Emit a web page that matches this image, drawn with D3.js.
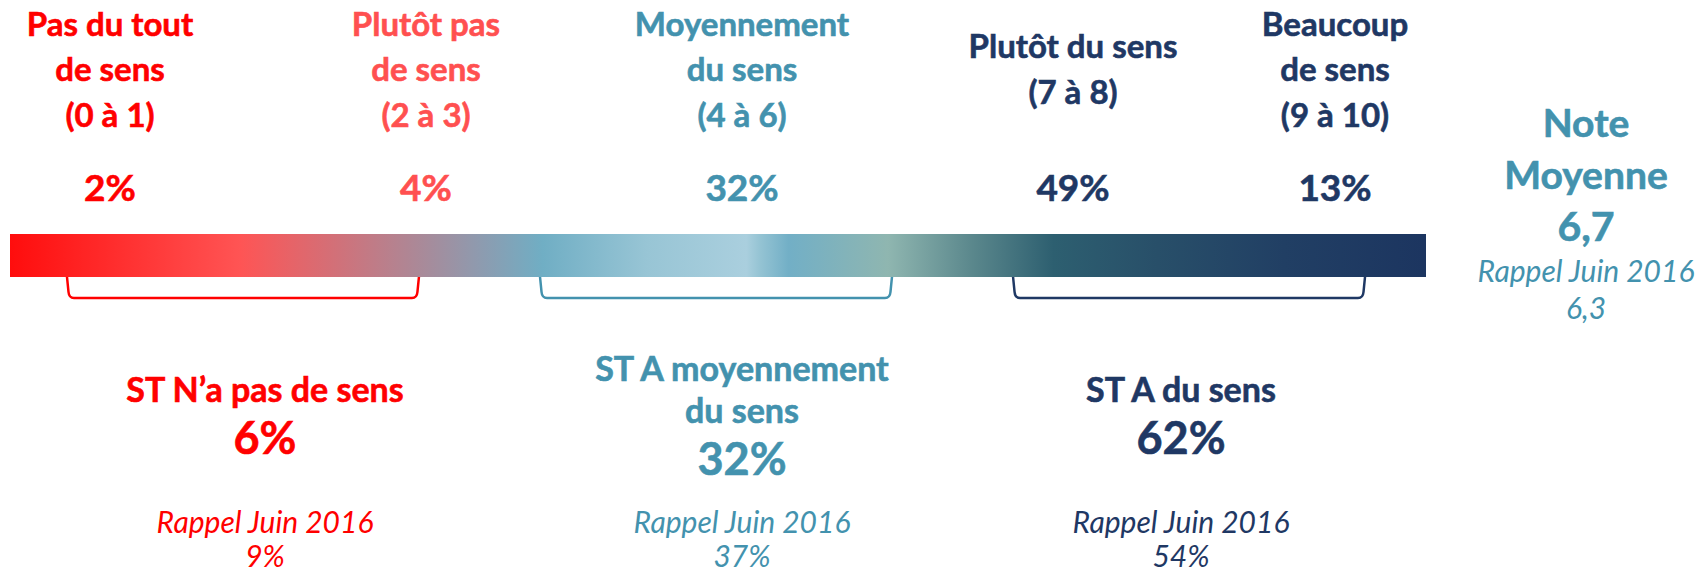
<!DOCTYPE html>
<html>
<head>
<meta charset="utf-8">
<script src="https://cdn.jsdelivr.net/npm/d3@7"></script>
<style>
  body { margin: 0; background: #fff; }
  svg { display: block; font-family: Lato, "Open Sans", sans-serif; }
</style>
</head>
<body>
<svg id="chart"></svg>
<script>
// answer categories, left to right on the 0-10 scale
const categoryLines = [
    ["Pas du tout", "de sens", "(0 à 1)"],
    ["Plutôt pas", "de sens", "(2 à 3)"],
    ["Moyennement", "du sens", "(4 à 6)"],
    ["Plutôt du sens", "(7 à 8)"],
    ["Beaucoup", "de sens", "(9 à 10)"]
];
const categoryShares = [2, 4, 32, 49, 13];

// sub-totals under the bar
const groupLines = [["ST N’a pas de sens"], ["ST A moyennement", "du sens"], ["ST A du sens"]];
const groupShares = [6, 32, 62];
const groupRecall = [9, 37, 54];
const recallLabel = "Rappel Juin 2016";

// average score
const meanTitle = ["Note", "Moyenne"];
const meanScore = 6.7;
const meanRecall = 6.3;

// colours
const RED = "#ff0000", LIGHT_RED = "#ff5050", TEAL = "#4392ae", NAVY = "#1f3864";
const categoryColors = [RED, LIGHT_RED, TEAL, NAVY, NAVY];
const groupColors = [RED, TEAL, NAVY];
const gradientStops = [
    [0, "#ff0d0d"], [0.162, "#ff5454"], [0.33, "#8f9aae"], [0.376, "#70aec4"],
    [0.45, "#98c5d5"], [0.52, "#aacfde"], [0.53, "#94c3d3"], [0.55, "#72afc6"], [0.62, "#8fb6b0"],
    [0.68, "#5a878c"], [0.737, "#2d5f70"], [0.81, "#284f69"], [0.9, "#213f64"], [1, "#1c3560"]
];

const width = 1699, height = 574;
const svg = d3.select("#chart").attr("width", width).attr("height", height);

// column centres of the headers (the last two columns sit a little tighter)
const x = d3.scaleLinear().domain([0, 2, 3, 4]).range([110, 742, 1073, 1335]);
const barX = d3.scaleLinear().domain([0, 1]).range([10, 1426]);
const gx = d3.scaleBand().domain(d3.range(groupLines.length)).range([67, 1365]).paddingInner(0.256);
// centres of the sub-total text blocks
const groupX = d3.scaleLinear().domain([0, 1, 2]).range([265, 742, 1181]);

const fr = d3.formatLocale({ decimal: ",", thousands: " ", grouping: [3], currency: ["", " €"] });
const fmtNote = fr.format(".1f");
const pct = v => `${v}%`;

// bold text gets a hairline stroke to come closer to the heavier original face
const heavy = sel => sel
    .attr("font-weight", 700)
    .attr("stroke", function () { return d3.select(this.parentNode).attr("fill") || d3.select(this).attr("fill"); })
    .attr("stroke-width", 0.6);

// gradient bar
const defs = svg.append("defs");
defs.append("linearGradient")
    .attr("id", "scoreGradient")
    .attr("x1", 0).attr("x2", 1).attr("y1", 0).attr("y2", 0)
    .selectAll("stop")
    .data(gradientStops)
    .join("stop")
    .attr("offset", d => d[0])
    .attr("stop-color", d => d[1]);

const barTop = 234, barBottom = 277;
svg.append("rect")
    .attr("x", barX(0))
    .attr("y", barTop)
    .attr("width", barX(1) - barX(0))
    .attr("height", barBottom - barTop)
    .attr("fill", "url(#scoreGradient)");

// category headers, centred vertically on the middle line
const headerMid = 81, headerStep = 45.5;
svg.append("g").selectAll("g")
    .data(categoryLines)
    .join("g")
    .attr("fill", (d, i) => categoryColors[i])
    .attr("text-anchor", "middle")
    .each(function (lines, i) {
        d3.select(this).selectAll("text")
            .data(lines)
            .join("text")
            .attr("x", x(i))
            .attr("y", (d, j) => headerMid + (j - (lines.length - 1) / 2) * headerStep)
            .attr("font-size", 33)
            .text(d => d)
            .call(heavy);
    });

svg.append("g").selectAll("text")
    .data(categoryShares)
    .join("text")
    .attr("x", (d, i) => x(i))
    .attr("y", 201)
    .attr("text-anchor", "middle")
    .attr("font-size", 37)
    .attr("fill", (d, i) => categoryColors[i])
    .text(pct)
    .call(heavy);

// brackets under the bar
function bracket(x0, x1) {
    const y0 = barBottom, y1 = 298;
    const p = d3.path();
    p.moveTo(x0, y0);
    p.lineTo(x0 + 1.5, y1 - 6);
    p.quadraticCurveTo(x0 + 2, y1, x0 + 7, y1);
    p.lineTo(x1 - 7, y1);
    p.quadraticCurveTo(x1 - 2, y1, x1 - 1.5, y1 - 6);
    p.lineTo(x1, y0);
    return p.toString();
}

svg.append("g").selectAll("path")
    .data(groupLines)
    .join("path")
    .attr("d", (d, i) => bracket(gx(i), gx(i) + gx.bandwidth()))
    .attr("fill", "none")
    .attr("stroke", (d, i) => groupColors[i])
    .attr("stroke-width", 2.5);

// sub-total blocks
const titleBase = 402, titleStep = 42;

svg.append("g").selectAll("g")
    .data(groupLines)
    .join("g")
    .attr("text-anchor", "middle")
    .attr("fill", (d, i) => groupColors[i])
    .each(function (lines, i) {
        const g = d3.select(this);
        const cx = groupX(i);
        const first = titleBase - (lines.length - 1) * titleStep / 2;
        g.selectAll("text.title")
            .data(lines)
            .join("text")
            .attr("class", "title")
            .attr("x", cx)
            .attr("y", (d, j) => first + j * titleStep)
            .attr("font-size", 34)
            .text(d => d)
            .call(heavy);
        g.append("text")
            .attr("x", cx)
            .attr("y", first + (lines.length - 1) * titleStep + 52)
            .attr("font-size", 45)
            .text(pct(groupShares[i]))
            .call(heavy);
        g.append("text")
            .attr("x", cx)
            .attr("y", 533)
            .attr("font-style", "italic")
            .attr("font-size", 30)
            .text(recallLabel);
        g.append("text")
            .attr("x", cx)
            .attr("y", 567)
            .attr("font-style", "italic")
            .attr("font-size", 30)
            .text(pct(groupRecall[i]));
    });

// average score block
const note = svg.append("g")
    .attr("text-anchor", "middle")
    .attr("fill", TEAL);
const noteX = 1586;

note.selectAll("text.title")
    .data(meanTitle)
    .join("text")
    .attr("class", "title")
    .attr("x", noteX)
    .attr("y", (d, j) => 137 + j * 52)
    .attr("font-size", 39)
    .text(d => d)
    .call(heavy);

note.append("text")
    .attr("x", noteX).attr("y", 241)
    .attr("font-size", 41)
    .text(fmtNote(meanScore))
    .call(heavy);

note.append("text")
    .attr("x", noteX).attr("y", 282)
    .attr("font-style", "italic").attr("font-size", 30)
    .text(recallLabel);

note.append("text")
    .attr("x", noteX).attr("y", 319)
    .attr("font-style", "italic").attr("font-size", 30)
    .text(fmtNote(meanRecall));
</script>
</body>
</html>
